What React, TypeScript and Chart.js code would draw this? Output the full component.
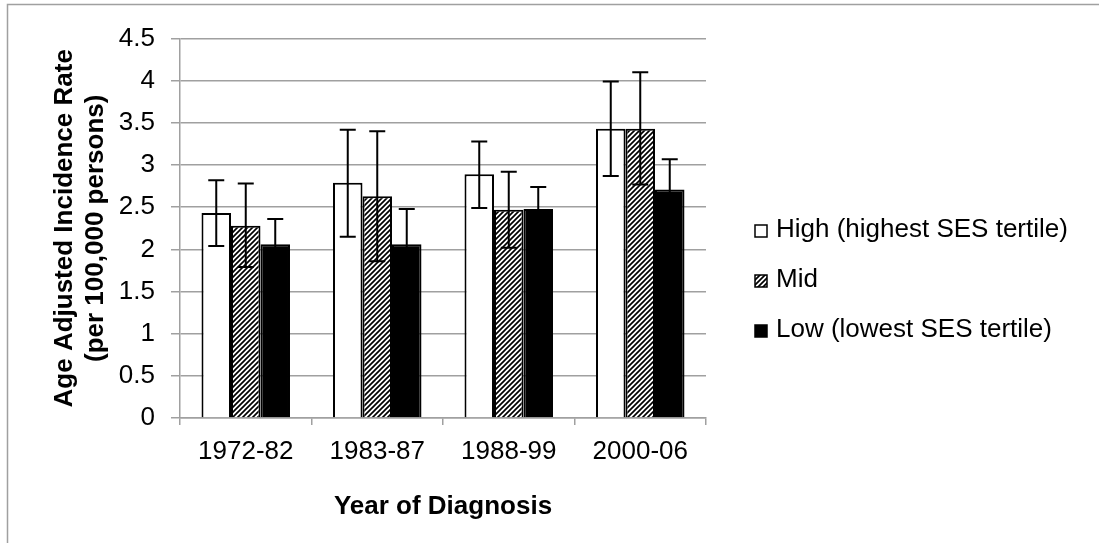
import React, { useEffect, useRef } from 'react';
import { Chart, registerables } from 'chart.js';

Chart.register(...registerables);

// ---- data ----
const categories = ['1972-82', '1983-87', '1988-99', '2000-06'];
const seriesNames = ['High (highest SES tertile)', 'Mid', 'Low (lowest SES tertile)'];
const highValues = [2.43, 2.79, 2.89, 3.43];
const highErrUp = [0.39, 0.63, 0.39, 0.56];
const highErrDown = [0.39, 0.64, 0.40, 0.56];
const midValues = [2.28, 2.63, 2.47, 3.43];
const midErrUp = [0.50, 0.77, 0.45, 0.67];
const midErrDown = [0.49, 0.77, 0.45, 0.66];
const lowValues = [2.06, 2.06, 2.48, 2.71];
const lowErrUp = [0.30, 0.42, 0.26, 0.36];
const lowErrDown = [0.30, 0.42, 0.26, 0.36];
const yTickValues = [0, 0.5, 1, 1.5, 2, 2.5, 3, 3.5, 4, 4.5];
const yTickLabels = ['0', '0.5', '1', '1.5', '2', '2.5', '3', '3.5', '4', '4.5'];
const yTitle = ['Age Adjusted Incidence Rate', '(per 100,000 persons)'];
const xTitle = 'Year of Diagnosis';

const GRAY = '#a0a0a0';
const FONT = '"Liberation Sans", Arial, sans-serif';
const FS = 26;

function makeHatch(): CanvasPattern | string {
  const n = 5;
  const c = document.createElement('canvas');
  c.width = n;
  c.height = n;
  const g = c.getContext('2d');
  if (!g) return '#888';
  g.fillStyle = '#ffffff';
  g.fillRect(0, 0, n, n);
  g.strokeStyle = '#000000';
  g.lineWidth = 1.7;
  g.beginPath();
  g.moveTo(0, n); g.lineTo(n, 0);
  g.moveTo(-1, 1); g.lineTo(1, -1);
  g.moveTo(n - 1, n + 1); g.lineTo(n + 1, n - 1);
  g.stroke();
  return g.createPattern(c, 'repeat') || '#888';
}

const errorBarsPlugin = {
  id: 'errorBars',
  afterDatasetsDraw(chart: any) {
    const { ctx } = chart;
    const y = chart.scales.y;
    ctx.save();
    ctx.strokeStyle = '#000';
    ctx.lineWidth = 2;
    chart.data.datasets.forEach((ds: any, di: number) => {
      const meta = chart.getDatasetMeta(di);
      meta.data.forEach((bar: any, i: number) => {
        const v = ds.data[i];
        const yt = y.getPixelForValue(v + ds.errUp[i]);
        const yb = y.getPixelForValue(v - ds.errDown[i]);
        const x = bar.x;
        const cap = 8;
        ctx.beginPath();
        ctx.moveTo(x, yt); ctx.lineTo(x, yb);
        ctx.moveTo(x - cap, yt); ctx.lineTo(x + cap, yt);
        ctx.moveTo(x - cap, yb); ctx.lineTo(x + cap, yb);
        ctx.stroke();
      });
    });
    ctx.restore();
  },
};

const frameAndLegendPlugin = {
  id: 'frameAndLegend',
  afterDraw(chart: any) {
    const { ctx, chartArea } = chart;
    ctx.save();
    // outer chart frame
    ctx.strokeStyle = GRAY;
    ctx.lineWidth = 1.5;
    ctx.strokeRect(7.5, 4.5, 1300, 700);
    // legend
    const lx = chartArea.right + 49;
    const baseY = 237;
    const step = 50;
    ctx.font = `${FS}px ${FONT}`;
    ctx.textBaseline = 'alphabetic';
    ctx.textAlign = 'left';
    chart.data.datasets.forEach((ds: any, i: number) => {
      const by = baseY + i * step;
      ctx.fillStyle = ds.backgroundColor;
      ctx.fillRect(lx, by - 12, 12, 12);
      ctx.strokeStyle = '#000';
      ctx.lineWidth = 1.5;
      ctx.strokeRect(lx, by - 12, 12, 12);
      ctx.fillStyle = '#000';
      ctx.fillText(ds.label, lx + 21, by);
    });
    ctx.restore();
  },
};

export default function App() {
  const ref = useRef<HTMLCanvasElement | null>(null);

  useEffect(() => {
    if (!ref.current) return;
    const hatch = makeHatch();
    const errUps = [highErrUp, midErrUp, lowErrUp];
    const errDowns = [highErrDown, midErrDown, lowErrDown];
    const values = [highValues, midValues, lowValues];
    const fills: any[] = ['#ffffff', hatch, '#000000'];

    const chart = new Chart(ref.current, {
      type: 'bar',
      data: {
        labels: categories,
        datasets: seriesNames.map((name, i) => ({
          label: name,
          data: values[i],
          backgroundColor: fills[i],
          borderColor: '#000000',
          borderWidth: 2,
          categoryPercentage: 0.673,
          barPercentage: 1,
          errUp: errUps[i],
          errDown: errDowns[i],
        })) as any,
      },
      options: {
        animation: false,
        responsive: false,
        events: [],
        layout: { padding: { left: 49.4, top: 38.6, right: 393, bottom: 16.4 } },
        plugins: {
          legend: { display: false },
          tooltip: { enabled: false },
        },
        scales: {
          x: {
            grid: {
              display: true,
              drawOnChartArea: false,
              drawTicks: true,
              tickLength: 7,
              color: GRAY,
              lineWidth: 1.5,
              offset: true,
            },
            border: { color: GRAY, width: 1.5 },
            ticks: {
              color: '#000',
              font: { family: FONT, size: FS },
              padding: 11,
              maxRotation: 0,
            },
            title: {
              display: true,
              text: xTitle,
              color: '#000',
              font: { family: FONT, size: FS, weight: 'bold', lineHeight: 1.2 },
              padding: { top: 13.2, bottom: 4 },
            },
          },
          y: {
            min: 0,
            max: 4.5,
            afterBuildTicks: (scale: any) => {
              scale.ticks = yTickValues.map((v) => ({ value: v }));
            },
            afterFit: (scale: any) => {
              scale.width = 130.6;
            },
            grid: {
              color: GRAY,
              lineWidth: 1.5,
              tickLength: 9,
              drawTicks: true,
            },
            border: { color: GRAY, width: 1.5 },
            ticks: {
              color: '#000',
              font: { family: FONT, size: FS },
              padding: 16,
              callback: (_v: any, i: number) => yTickLabels[i],
            },
            title: {
              display: true,
              text: yTitle,
              color: '#000',
              font: { family: FONT, size: FS, weight: 'bold', lineHeight: 1.2 },
              padding: { top: 0, bottom: 0 },
            },
          },
        },
      } as any,
      plugins: [errorBarsPlugin, frameAndLegendPlugin],
    });
    return () => chart.destroy();
  }, []);

  return (
    <div style={{ position: 'absolute', left: 0, top: 0, width: 1099, height: 543, background: '#fff' }}>
      <canvas ref={ref} width={1099} height={543} style={{ display: 'block', width: 1099, height: 543 }} />
    </div>
  );
}
